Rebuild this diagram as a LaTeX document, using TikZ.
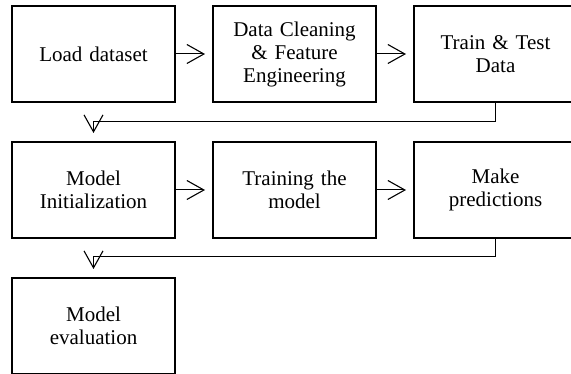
\documentclass[tikz,border=0pt]{standalone}
\usepackage{fontspec}
\setmainfont{Liberation Serif}
\usetikzlibrary{arrows.meta}
\begin{document}
\begin{tikzpicture}[x=1pt,y=-1pt,
  stagebox/.style={draw=black, line width=2pt, minimum width=163pt, minimum height=96pt,
    align=center, text width=150pt, inner sep=0pt,
    font=\fontsize{21}{23}\selectfont},
  flow/.style={line width=1pt, -{Straight Barb[length=17pt,width=19pt,line width=1.1pt]}},
  elbow/.style={flow, shorten >=8pt}]
\clip (0,0) rectangle (571,374);
\useasboundingbox (0,0) rectangle (571,374);

% first row
\node[stagebox] (load)  at (93.5,54)  {Load dataset};
\node[stagebox] (clean) at (294.5,54) {Data Cleaning\\\& Feature\\Engineering};
\node[stagebox] (split) at (495.5,54) {Train \& Test\\Data};

% second row
\node[stagebox] (init)  at (93.5,190)  {Model\\Initialization};
\node[stagebox] (train) at (294.5,190) {Training the\\model};
\node[stagebox] (pred)  at (495.5,190) {Make\\predictions};

% third row
\node[stagebox] (eval)  at (93.5,326) {Model\\evaluation};

% horizontal steps
\draw[flow, shorten >=7pt] (load.east)  -- (clean.west);
\draw[flow, shorten >=7pt] (clean.east) -- (split.west);
\draw[flow, shorten >=7pt] (init.east)  -- (train.west);
\draw[flow, shorten >=7pt] (train.east) -- (pred.west);

% row wrap-arounds
\draw[elbow] (split.south) -- ++(0,19) -| (init.north);
\draw[elbow] (pred.south)  -- ++(0,18) -| (eval.north);
\end{tikzpicture}
\end{document}
